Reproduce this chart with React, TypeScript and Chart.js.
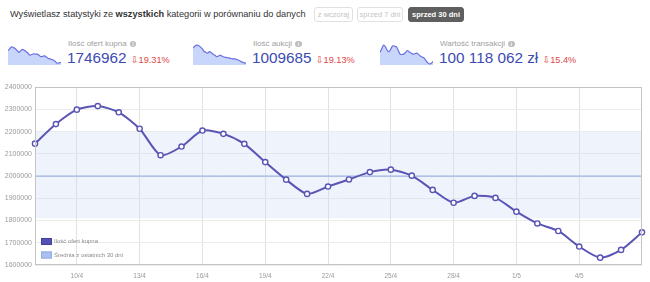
import React, { useEffect, useRef } from "react";
import { Chart, registerables } from "chart.js";

Chart.register(...registerables);

// ---- data ----
const dates = [
  "8/4", "9/4", "10/4", "11/4", "12/4", "13/4", "14/4", "15/4", "16/4", "17/4",
  "18/4", "19/4", "20/4", "21/4", "22/4", "23/4", "24/4", "25/4", "26/4", "27/4",
  "28/4", "29/4", "30/4", "1/5", "2/5", "3/5", "4/5", "5/5", "6/5", "7/5",
];
const shownDates = ["10/4", "13/4", "16/4", "19/4", "22/4", "25/4", "28/4", "1/5", "4/5"];
const offers = [
  2146000, 2234000, 2299000, 2315000, 2287000, 2213000, 2094000, 2133000, 2205000, 2190000,
  2145000, 2063000, 1984000, 1920000, 1953000, 1985000, 2018000, 2029000, 2002000, 1938000,
  1880000, 1911000, 1902000, 1840000, 1787000, 1753000, 1683000, 1633000, 1668000, 1746962,
];
const avgValue = 2000000;
const bandHigh = 2200000;
const bandLow = 1810000;
const yMin = 1600000;
const yMax = 2400000;
const yStep = 100000;

const spark1 = [40, 45, 50, 48, 45, 40, 35, 40, 43, 40, 37, 32, 27, 29, 31, 30, 30, 27, 23, 24, 25, 22, 18, 17, 15, 13, 9, 5, 6, 7];
const spark2 = [47, 52, 55, 54, 50, 45, 38, 35, 33, 37, 34, 30, 27, 23, 25, 27, 24, 22, 21, 20, 19, 18, 17, 17, 15, 13, 10, 8, 6, 5];
const spark3 = [35, 45, 55, 50, 40, 37, 45, 53, 52, 50, 40, 30, 29, 30, 35, 40, 36, 33, 30, 31, 33, 30, 25, 22, 20, 13, 7, 3, 5, 10];

const stats = [
  { label: "Ilość ofert kupna", value: "1746962", change: "19.31%", spark: spark1 },
  { label: "Ilość aukcji", value: "1009685", change: "19.13%", spark: spark2 },
  { label: "Wartość transakcji", value: "100 118 062 zł", change: "15.4%", spark: spark3 },
];
const buttons = ["z wczoraj", "sprzed 7 dni", "sprzed 30 dni"];

const FONT = "'Liberation Sans', Arial, Helvetica, sans-serif";
const LINE = "#5a55b5";

function Sparkline({ data }: { data: number[] }) {
  const ref = useRef<HTMLCanvasElement>(null);
  useEffect(() => {
    const chart = new Chart(ref.current!, {
      type: "line",
      data: {
        labels: data.map((_, i) => String(i)),
        datasets: [
          {
            data,
            borderColor: "#6b6fe2",
            borderWidth: 1.2,
            backgroundColor: "#c9d6fb",
            fill: "start",
            pointRadius: 0,
            tension: 0.35,
          },
        ],
      },
      options: {
        animation: false,
        responsive: false,
        events: [],
        layout: { padding: 0 },
        plugins: { legend: { display: false }, tooltip: { enabled: false } },
        scales: {
          x: { display: false },
          y: { display: false, min: 0, max: 58 },
        },
      },
    });
    return () => chart.destroy();
  }, [data]);
  return <canvas ref={ref} width={53} height={21} style={{ display: "block", width: 53, height: 21 }} />;
}

const legendPlugin = {
  id: "innerLegend",
  afterDraw(chart: any) {
    const { ctx, chartArea } = chart;
    const items = [
      { text: chart.data.datasets[0].label, fill: "#5550b6", stroke: "#44409a" },
      { text: chart.data.datasets[2].label, fill: "#a9c1f1", stroke: "#93acde" },
    ];
    ctx.save();
    ctx.font = `6px ${FONT}`;
    ctx.textBaseline = "middle";
    items.forEach((it, i) => {
      const x = chartArea.left + 6;
      const y = chartArea.bottom - 27 + i * 13.5;
      ctx.fillStyle = it.fill;
      ctx.fillRect(x, y, 11, 7);
      ctx.strokeStyle = it.stroke;
      ctx.lineWidth = 1;
      ctx.strokeRect(x + 0.5, y + 0.5, 10, 6);
      ctx.fillStyle = "#8a8a8a";
      ctx.fillText(it.text, x + 13, y + 3.8);
    });
    ctx.restore();
  },
};

const borderPlugin = {
  id: "areaBorder",
  afterDatasetsDraw(chart: any) {
    const { ctx, chartArea } = chart;
    ctx.save();
    ctx.strokeStyle = "#c4c4c4";
    ctx.lineWidth = 1;
    ctx.strokeRect(
      Math.round(chartArea.left) + 0.5,
      Math.round(chartArea.top) + 0.5,
      Math.round(chartArea.right - chartArea.left) - 1,
      Math.round(chartArea.bottom - chartArea.top) - 1
    );
    ctx.restore();
  },
};

function MainChart() {
  const ref = useRef<HTMLCanvasElement>(null);
  useEffect(() => {
    const chart = new Chart(ref.current!, {
      type: "line",
      data: {
        labels: dates,
        datasets: [
          {
            label: "Ilość ofert kupna",
            data: offers,
            borderColor: LINE,
            borderWidth: 2,
            pointRadius: 2.6,
            pointBorderWidth: 1.4,
            pointBackgroundColor: "#ffffff",
            pointBorderColor: LINE,
            tension: 0.25,
            fill: false,
            order: 0,
          },
          {
            label: "avg",
            data: dates.map(() => avgValue),
            borderColor: "#8ea6dc",
            borderWidth: 1,
            pointRadius: 0,
            fill: false,
            order: 1,
          },
          {
            label: "Średnia z ostatnich 30 dni",
            data: dates.map(() => bandHigh),
            borderWidth: 0,
            borderColor: "rgba(0,0,0,0)",
            backgroundColor: "rgba(200,215,245,0.3)",
            pointRadius: 0,
            fill: "+1",
            order: 2,
          },
          {
            label: "low",
            data: dates.map(() => bandLow),
            borderWidth: 0,
            borderColor: "rgba(0,0,0,0)",
            pointRadius: 0,
            fill: false,
            order: 3,
          },
        ],
      },
      options: {
        animation: false,
        responsive: false,
        events: [],
        layout: { padding: { top: 7, right: 8, left: 0, bottom: 0 } },
        plugins: { legend: { display: false }, tooltip: { enabled: false } },
        scales: {
          x: {
            offset: false,
            grid: { color: "#e2e2e2", drawTicks: false },
            border: { display: false },
            ticks: {
              autoSkip: false,
              maxRotation: 0,
              padding: 7,
              color: "#9a9a9a",
              font: { size: 6.5, family: FONT },
              callback(this: any, _v: any, i: number) {
                const l = dates[i];
                return shownDates.includes(l) ? l : null;
              },
            },
            afterFit(scale: any) {
              scale.height = 17;
            },
          },
          y: {
            min: yMin,
            max: yMax,
            grid: { color: "#ececec", drawTicks: false },
            border: { display: false },
            ticks: {
              stepSize: yStep,
              padding: 3,
              color: "#9a9a9a",
              font: { size: 7, family: FONT },
              callback: (v: any) => String(v),
            },
            afterFit(scale: any) {
              scale.width = 35;
            },
          },
        },
      },
      plugins: [borderPlugin, legendPlugin],
    });
    return () => chart.destroy();
  }, []);
  return <canvas ref={ref} width={650} height={202} style={{ display: "block", width: 650, height: 202 }} />;
}

export default function App() {
  const btnLefts = [314, 357, 408];
  const btnWidths = [39, 46, 56];
  const blockLefts = [8, 193, 380];
  return (
    <div
      style={{
        position: "absolute",
        left: 0,
        top: 0,
        width: 650,
        height: 282,
        background: "#fff",
        fontFamily: FONT,
        overflow: "hidden",
      }}
    >
      <div style={{ position: "absolute", left: 10, top: 8, fontSize: 9.2, color: "#333", lineHeight: "12px", whiteSpace: "nowrap" }}>
        Wyświetlasz statystyki ze <b>wszystkich</b> kategorii w porównaniu do danych
      </div>
      {buttons.map((b, i) => {
        const active = i === 2;
        return (
          <div
            key={b}
            style={{
              position: "absolute",
              left: btnLefts[i],
              top: 7,
              width: btnWidths[i],
              height: 15,
              boxSizing: "border-box",
              border: active ? "1px solid #5f5f5f" : "1px solid #e0e0e0",
              background: active ? "#5f5f5f" : "#fff",
              color: active ? "#fff" : "#c4c4c4",
              fontWeight: active ? "bold" : "normal",
              borderRadius: 3,
              fontSize: 7.5,
              lineHeight: "13px",
              textAlign: "center",
              whiteSpace: "nowrap",
            }}
          >
            {b}
          </div>
        );
      })}
      {stats.map((s, i) => (
        <div key={s.label}>
          <div style={{ position: "absolute", left: blockLefts[i], top: 44 }}>
            <Sparkline data={s.spark} />
          </div>
          <div
            style={{
              position: "absolute",
              left: blockLefts[i] + 60,
              top: 39,
              fontSize: 8,
              color: "#a0a0a0",
              lineHeight: "10px",
              whiteSpace: "nowrap",
              display: "flex",
              alignItems: "center",
            }}
          >
            {s.label}
            <span
              style={{
                display: "inline-block",
                width: 6.5,
                height: 6.5,
                borderRadius: 3.5,
                background: "#bdbdbd",
                color: "#fff",
                fontSize: 5,
                lineHeight: "6.5px",
                textAlign: "center",
                fontWeight: "bold",
                marginLeft: 3,
              }}
            >
              i
            </span>
          </div>
          <div
            style={{
              position: "absolute",
              left: blockLefts[i] + 59,
              top: 50,
              whiteSpace: "nowrap",
              display: "flex",
              alignItems: "baseline",
            }}
          >
            <span style={{ fontSize: 15.3, color: "#3c4bb2", lineHeight: "15px" }}>{s.value}</span>
            <span style={{ fontSize: 9.2, color: "#e04646", marginLeft: 4, lineHeight: "15px" }}>
              <span style={{ fontFamily: "'DejaVu Sans', sans-serif", fontSize: 9.5 }}>⇩</span>
              {s.change}
            </span>
          </div>
        </div>
      ))}
      <div style={{ position: "absolute", left: 0, top: 80 }}>
        <MainChart />
      </div>
    </div>
  );
}
